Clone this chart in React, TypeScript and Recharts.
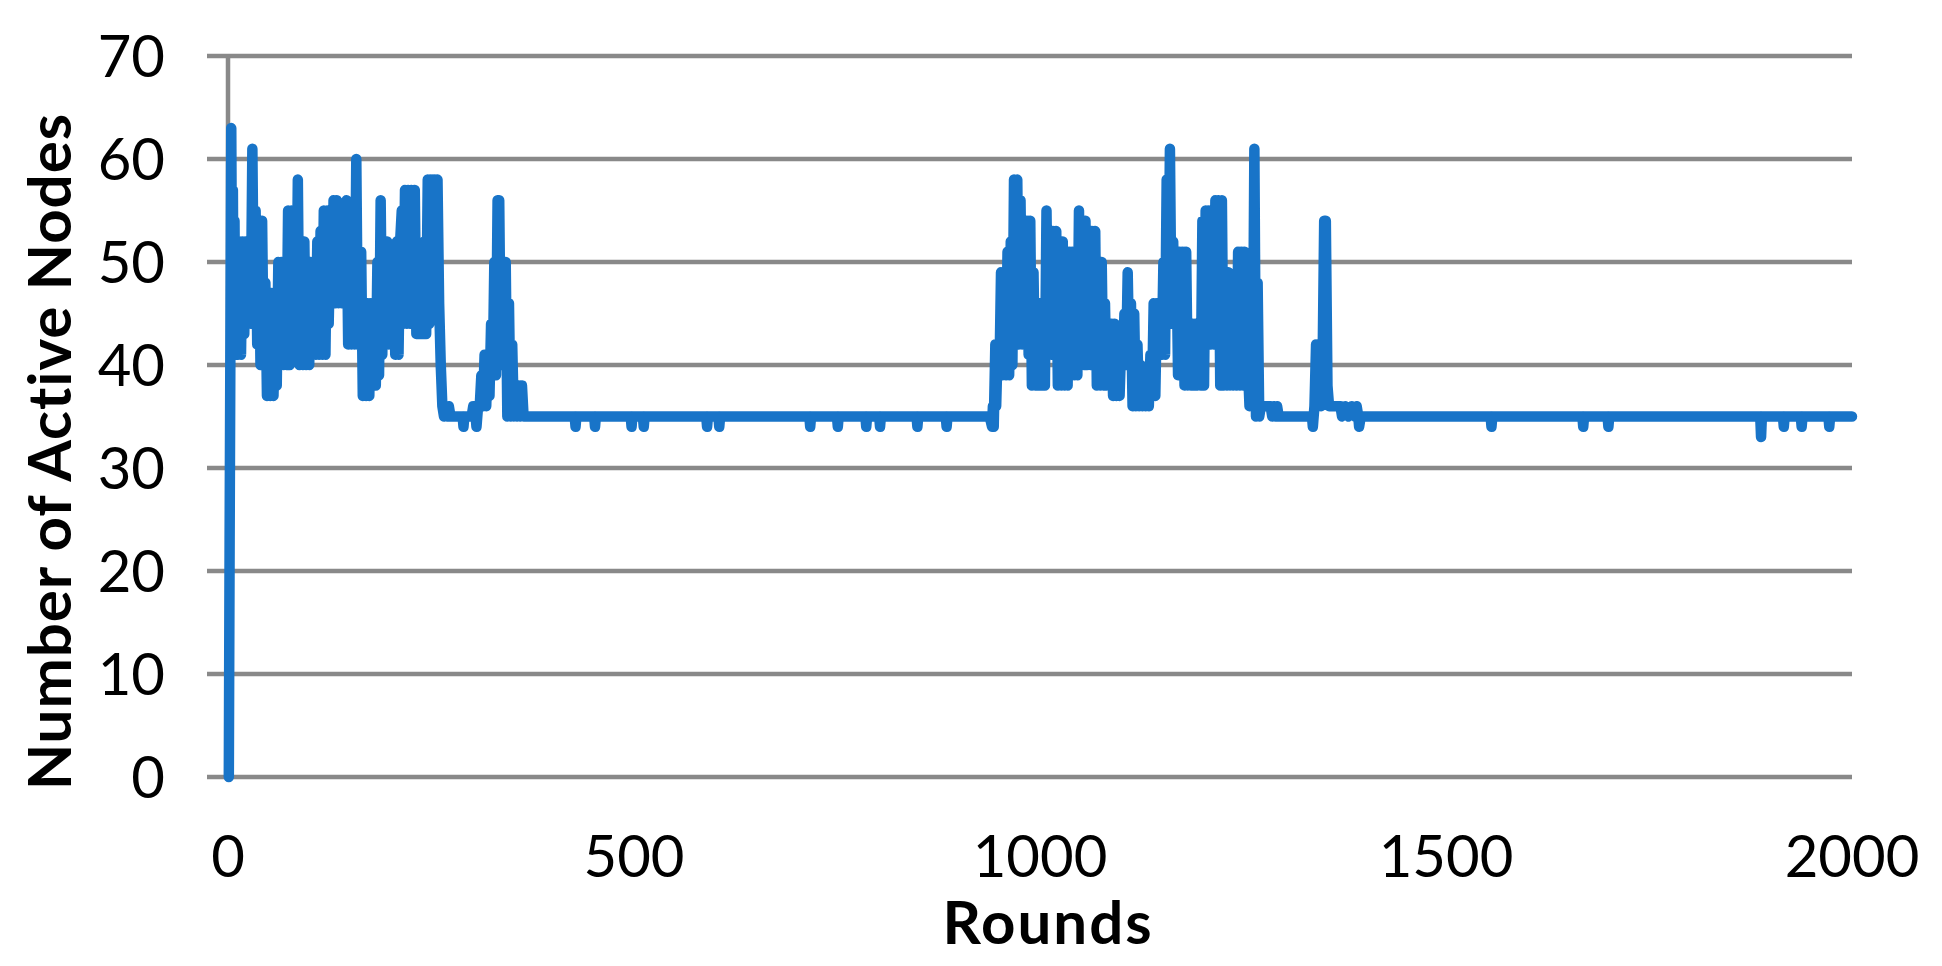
import React from 'react';
import { LineChart, Line, XAxis, YAxis, CartesianGrid, Label } from 'recharts';

// [round, active nodes]
const startRise: [number, number][] = [[1, 0], [2, 23], [4, 63]];

const burst1: [number, number][] = [
  [5, 46], [6, 57], [7, 41], [8, 54], [9, 41], [10, 52], [12, 41], [14, 52], [16, 41], [18, 52],
  [20, 43], [22, 52], [24, 44], [26, 50], [28, 44], [30, 61], [32, 44], [34, 55], [36, 42], [38, 54],
  [40, 40], [42, 54], [44, 40], [46, 48], [48, 37], [50, 47], [52, 37], [54, 47], [56, 37], [58, 45],
  [60, 38], [62, 50], [64, 40], [66, 50], [68, 40], [70, 50], [72, 40], [74, 55], [76, 40], [78, 55],
  [80, 42], [82, 55], [84, 42], [86, 58], [88, 40], [90, 52], [92, 40], [94, 52], [96, 40], [98, 50],
  [100, 40], [102, 50], [104, 41], [106, 50], [108, 41], [110, 52], [112, 41], [114, 53], [116, 41], [118, 55],
  [120, 41], [122, 55], [124, 44], [126, 52], [128, 46], [130, 56], [132, 46], [134, 56], [136, 46], [138, 52],
  [140, 46], [142, 54], [144, 46], [146, 56], [148, 42], [150, 50], [152, 42], [154, 52], [156, 42], [158, 60],
  [160, 42], [162, 46], [164, 51], [166, 37], [168, 46], [170, 37], [172, 46], [174, 37], [176, 46], [178, 38],
  [180, 45], [182, 38], [184, 50], [186, 39], [188, 56], [190, 41], [192, 52], [194, 42], [196, 52], [198, 42],
  [200, 50], [202, 42], [204, 50], [206, 41], [208, 52], [210, 41], [212, 52], [214, 55], [216, 44], [218, 57],
  [220, 44], [222, 57], [224, 44], [226, 57], [228, 45], [230, 57], [232, 43], [234, 51], [236, 43], [238, 51],
  [240, 43], [242, 52], [244, 43], [246, 58], [248, 44], [250, 58], [252, 45], [254, 58], [256, 46], [258, 58],
  [260, 46], [262, 40], [264, 36], [266, 35], [268, 36], [270, 35], [272, 36], [274, 35],
];

const quiet1: [number, number][] = [
  [289, 35], [290, 34], [291, 35], [300, 35], [302, 36], [304, 36], [306, 34], [308, 36], [310, 36],
  [312, 39], [314, 36], [316, 41], [318, 36], [320, 41], [322, 37], [324, 44], [326, 39], [328, 50],
  [330, 39], [332, 56], [334, 56], [336, 40], [338, 50], [340, 40], [342, 50], [344, 35], [346, 46],
  [348, 35], [350, 42], [352, 35], [354, 38], [356, 35], [358, 38], [360, 35], [362, 38], [364, 35], [366, 35],
];

const plateau1: [number, number][] = [
  [427, 35], [428, 34], [429, 35], [451, 35], [452, 34], [453, 35], [496, 35], [497, 34], [498, 35],
  [511, 35], [512, 34], [513, 35], [589, 35], [590, 34], [591, 35], [604, 35], [605, 34], [606, 35],
  [716, 35], [717, 34], [718, 35], [750, 35], [751, 34], [752, 35], [785, 35], [786, 34], [787, 35],
  [802, 35], [803, 34], [804, 35], [848, 35], [849, 34], [850, 35], [884, 35], [885, 34], [886, 35],
  [938, 35],
];

const burst2: [number, number][] = [
  [941, 34], [942, 36], [943, 34], [944, 38], [945, 42], [946, 36], [948, 42], [950, 39], [952, 49], [954, 39],
  [956, 45], [958, 39], [960, 51], [962, 39], [964, 52], [966, 40], [968, 58], [970, 42], [972, 58], [974, 42],
  [976, 56], [978, 42], [980, 54], [982, 42], [984, 54], [986, 41], [988, 54], [990, 38], [992, 49], [994, 38],
  [996, 46], [998, 38], [1000, 46], [1002, 38], [1004, 46], [1006, 38], [1008, 55], [1010, 41], [1012, 48], [1014, 41],
  [1016, 53], [1018, 41], [1020, 53], [1022, 38], [1024, 52], [1026, 38], [1028, 52], [1030, 38], [1032, 51], [1034, 38],
  [1036, 51], [1038, 39], [1040, 51], [1042, 39], [1044, 46], [1046, 39], [1048, 55], [1050, 40], [1052, 48], [1054, 40],
  [1056, 54], [1058, 40], [1060, 53], [1062, 40], [1064, 53], [1066, 40], [1068, 53], [1070, 38], [1072, 50], [1074, 38],
  [1076, 50], [1078, 38], [1080, 46], [1082, 38], [1084, 44], [1086, 38], [1088, 44], [1090, 37], [1092, 44], [1094, 37],
  [1096, 42], [1098, 37], [1100, 42], [1102, 40], [1104, 45], [1106, 40], [1108, 49], [1110, 40], [1112, 46], [1114, 36],
  [1116, 45], [1118, 36], [1120, 42], [1122, 36], [1124, 40], [1126, 36], [1128, 39], [1130, 36], [1132, 39], [1134, 36],
  [1136, 41], [1138, 37], [1140, 46], [1142, 37], [1144, 46], [1146, 41], [1148, 46], [1150, 41], [1152, 50], [1154, 41],
  [1156, 58], [1158, 44], [1160, 61], [1162, 44], [1164, 52], [1166, 44], [1168, 51], [1170, 39], [1172, 51], [1174, 39],
  [1176, 51], [1178, 38], [1180, 51], [1182, 38], [1184, 44], [1186, 38], [1188, 44], [1190, 38], [1192, 44], [1194, 38],
  [1196, 42], [1198, 38], [1200, 54], [1202, 38], [1204, 55], [1206, 42], [1208, 55], [1210, 42], [1212, 49], [1214, 42],
  [1216, 56], [1218, 42], [1220, 56], [1222, 38], [1224, 56], [1226, 38], [1228, 49], [1230, 38], [1232, 49], [1234, 38],
  [1236, 43], [1238, 38], [1240, 43], [1242, 38], [1244, 51], [1246, 38], [1248, 51], [1250, 38], [1252, 51], [1254, 38],
  [1256, 40], [1258, 36], [1260, 48], [1262, 36], [1264, 61], [1266, 35], [1268, 48], [1270, 35], [1272, 36], [1284, 36],
  [1286, 35], [1288, 36], [1290, 35], [1292, 36], [1294, 35],
];

const aftershock: [number, number][] = [
  [1335, 35], [1336, 34], [1338, 36], [1340, 42], [1342, 36], [1344, 42], [1346, 36], [1348, 40], [1350, 54], [1352, 54],
  [1354, 38], [1356, 36], [1370, 36], [1372, 35], [1376, 36], [1380, 35], [1384, 36], [1388, 35], [1390, 36], [1392, 35],
  [1393, 34], [1395, 35],
];

const plateau2: [number, number][] = [
  [1555, 35], [1556, 34], [1557, 35], [1668, 35], [1669, 34], [1670, 35], [1699, 35], [1700, 34], [1701, 35],
  [1887, 35], [1888, 33], [1889, 35], [1915, 35], [1916, 34], [1917, 35], [1937, 35], [1938, 34], [1939, 35],
  [1971, 35], [1972, 34], [1973, 35], [2000, 35],
];

const xTicks = [0, 500, 1000, 1500, 2000];
const yTicks = [0, 10, 20, 30, 40, 50, 60, 70];

const data = [...startRise, ...burst1, ...quiet1, ...plateau1, ...burst2, ...aftershock, ...plateau2].map(
  ([round, nodes]) => ({ round, nodes })
);

const FONT = 'Lato, "Open Sans", "DejaVu Sans", sans-serif';
const GRID = '#898989';

const XTitle = (props: any) => {
  const vb = props.viewBox || { x: 220, y: 769, width: 1624, height: 60 };
  return (
    <text
      x={vb.x + vb.width / 2 + 8}
      y={vb.y + 167}
      textAnchor="middle"
      fontFamily={FONT}
      fontWeight={700}
      fontSize={60}
      letterSpacing={2}
      fill="#000"
    >
      Rounds
    </text>
  );
};

const YTitle = (props: any) => {
  const vb = props.viewBox || { x: 0, y: 48, width: 220, height: 721 };
  const cx = vb.x + 63;
  const cy = vb.y + vb.height / 2 + 35;
  return (
    <text
      x={cx}
      y={cy}
      transform={`rotate(-90, ${cx}, ${cy})`}
      textAnchor="middle"
      fontFamily={FONT}
      fontWeight={700}
      fontSize={60}
      letterSpacing={1}
      fill="#000"
    >
      Number of Active Nodes
    </text>
  );
};

export default function App() {
  return (
    <div style={{ width: 1926, height: 950 }}>
      <LineChart
        width={1926}
        height={950}
        data={data}
        margin={{ top: 48, right: 82, bottom: 121, left: 0 }}
      >
        <CartesianGrid vertical={false} stroke={GRID} strokeWidth={4.5} />
        <XAxis
          dataKey="round"
          type="number"
          domain={[0, 2000]}
          ticks={xTicks}
          interval={0}
          axisLine={false}
          tickLine={false}
          tickSize={6}
          tickMargin={53}
          height={60}
          tick={{ fill: '#000', fontSize: 58, fontFamily: FONT }}
        >
          <Label content={XTitle} />
        </XAxis>
        <YAxis
          type="number"
          domain={[0, 70]}
          ticks={yTicks}
          interval={0}
          width={220}
          axisLine={{ stroke: GRID, strokeWidth: 4.5 }}
          tickLine={{ stroke: GRID, strokeWidth: 4.5 }}
          tickSize={21}
          tickMargin={42}
          tick={{ fill: '#000', fontSize: 58, fontFamily: FONT }}
        >
          <Label content={YTitle} />
        </YAxis>
        <Line
          dataKey="nodes"
          type="linear"
          stroke="#1874c8"
          strokeWidth={10.5}
          strokeLinejoin="round"
          strokeLinecap="round"
          dot={false}
          activeDot={false}
          isAnimationActive={false}
          zIndex={600}
        />
      </LineChart>
    </div>
  );
}
